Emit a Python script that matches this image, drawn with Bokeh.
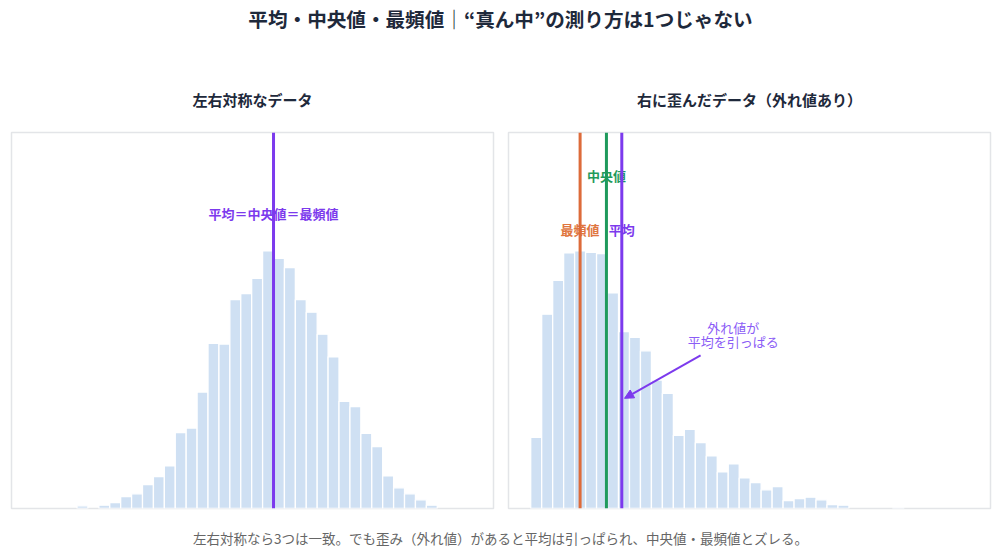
from bokeh.plotting import figure
from bokeh.layouts import column, row
from bokeh.models import Span, Arrow, NormalHead, Range1d
from bokeh.embed import file_html
from bokeh.resources import INLINE
from bokeh.core.properties import value

FONT = "Noto Sans CJK JP"

# ---------------- data ----------------
main_title = "平均・中央値・最頻値｜“真ん中”の測り方は1つじゃない"
left_title = "左右対称なデータ"
right_title = "右に歪んだデータ（外れ値あり）"
footer_text = "左右対称なら3つは一致。でも歪み（外れ値）があると平均は引っぱられ、中央値・最頻値とズレる。"

sym_bin_start = 14
sym_bin_width = 2
sym_counts = [4, 0, 5, 9, 18, 22, 36, 48, 64, 114, 121, 175, 248, 247, 314, 323,
              346, 387, 376, 362, 314, 295, 262, 228, 161, 153, 113, 93, 49, 31, 22, 13, 5]
sym_mean = 50.0

skew_bin_start = 20
skew_bin_width = 2
skew_counts = [107, 292, 343, 384, 387, 385, 383, 324, 266, 257, 237, 193, 173, 110, 119, 99,
               79, 55, 67, 46, 39, 28, 33, 12, 15, 17, 13, 6, 5, 0, 0, 0, 0, 1]
skew_mode = 29.0
skew_median = 33.8
skew_mean = 36.6

sym_label = "平均＝中央値＝最頻値"
mode_label = "最頻値"
median_label = "中央値"
mean_label = "平均"
note_label = "外れ値が\n平均を引っぱる"

# ---------------- style ----------------
BAR = "#cfe0f3"
PURPLE = "#7c3aed"
GREEN = "#1f9a5c"
ORANGE = "#dd6b3a"
NAVY = "#1e293b"
Y_TOP = 565


def base_fig(width, height, **kw):
    p = figure(width=width, height=height, output_backend="svg", toolbar_location=None,
               x_axis_type=None, y_axis_type=None, **kw)
    p.grid.visible = False
    p.background_fill_color = "white"
    p.border_fill_color = "white"
    return p


def text_fig(height, txt, ypos, size, color, bold):
    f = base_fig(1000, height, x_range=Range1d(0, 1), y_range=Range1d(0, 1),
                 min_border=0, outline_line_color=None)
    f.text(x=[0.5], y=[ypos], text=[txt], text_align="center", text_baseline="middle",
           text_font=value(FONT), text_font_size=size, text_color=color,
           text_font_style="bold" if bold else "normal")
    return f


def panel(title, counts, start, width, xr, bl, br):
    p = base_fig(500, 470, x_range=Range1d(*xr), y_range=Range1d(0, Y_TOP),
                 min_border_left=bl, min_border_right=br, min_border_top=84, min_border_bottom=10)
    p.title.text = title
    p.title.align = "center"
    p.title.text_font = FONT
    p.title.text_font_size = "15px"
    p.title.text_font_style = "bold"
    p.title.text_color = NAVY
    p.title.standoff = 46
    p.outline_line_color = "#e3e5e8"
    p.outline_line_width = 1.5
    lefts, rights, tops = [], [], []
    for i, c in enumerate(counts):
        if c > 0:
            lefts.append(start + i * width)
            rights.append(start + (i + 1) * width)
            tops.append(c)
    p.quad(left=lefts, right=rights, top=tops, bottom=0, fill_color=BAR,
           line_color="white", line_width=1.3)
    return p


hdr = text_fig(48, main_title, 1 - 18 / 48, "19.6px", NAVY, True)

p1 = panel(left_title, sym_counts, sym_bin_start, sym_bin_width, (2.0, 90.3), 11, 7)
p1.add_layout(Span(location=sym_mean, dimension="height", line_color=PURPLE, line_width=3))
p1.text(x=[sym_mean], y=[Y_TOP * 0.785], text=[sym_label], text_align="center",
        text_baseline="middle", text_font=value(FONT), text_font_size="13px",
        text_font_style="bold", text_color=PURPLE)

p2 = panel(right_title, skew_counts, skew_bin_start, skew_bin_width, (15.95, 103.8), 8, 10)
for loc, col in [(skew_mode, ORANGE), (skew_median, GREEN), (skew_mean, PURPLE)]:
    p2.add_layout(Span(location=loc, dimension="height", line_color=col, line_width=3))
for x, y, t, c in [(skew_median, 0.886, median_label, GREEN),
                   (skew_mode, 0.742, mode_label, "#e0763f"),
                   (skew_mean, 0.742, mean_label, PURPLE)]:
    p2.text(x=[x], y=[Y_TOP * y], text=[t], text_align="center", text_baseline="middle",
            text_font=value(FONT), text_font_size="13px", text_font_style="bold", text_color=c)

p2.text(x=[56.9], y=[Y_TOP * 0.463], text=[note_label], text_align="center",
        text_baseline="middle", text_font=value(FONT), text_font_size="13px",
        text_color="#8b5cf6", text_line_height=0.75)
p2.add_layout(Arrow(end=NormalHead(size=9, fill_color=PURPLE, line_color=PURPLE),
                    x_start=50.96, y_start=Y_TOP * 0.407, x_end=37.1, y_end=Y_TOP * 0.293,
                    line_color=PURPLE, line_width=2))

ftr = text_fig(38, footer_text, 1 - 19 / 38, "13.5px", "#666666", False)

layout = column(hdr, row(p1, p2), ftr)

open("out.html", "w").write(file_html(layout, INLINE))
